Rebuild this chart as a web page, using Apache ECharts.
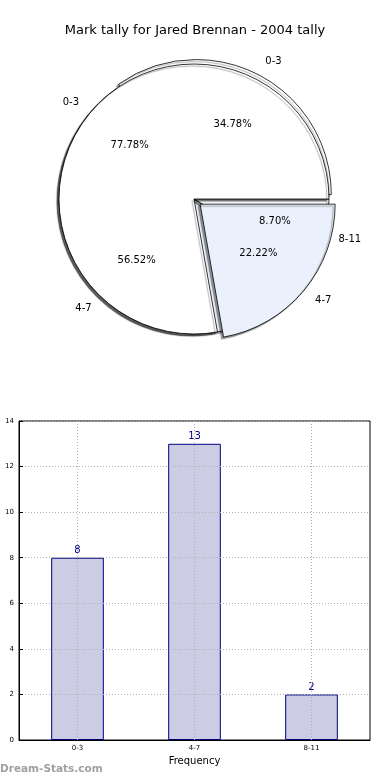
<!DOCTYPE html>
<html>
<head>
<meta charset="utf-8">
<script src="https://cdn.jsdelivr.net/npm/echarts@6/dist/echarts.min.js"></script>
<style>
html,body{margin:0;padding:0;background:#fff;}
#chart{width:390px;height:780px;}
</style>
</head>
<body>
<div id="chart"></div>
<script>
var titleText = 'Mark tally for Jared Brennan - 2004 tally';
var pieTopNames = ['0-3', '4-7'];
var pieTopValues = [7, 2];
var pieBottomNames = ['0-3', '4-7', '8-11'];
var pieBottomValues = [8, 13, 2];
var barCategories = ['0-3', '4-7', '8-11'];
var barValues = [8, 13, 2];
var yTicks = [0, 2, 4, 6, 8, 10, 12, 14];

var FONT = 'DejaVu Sans';
var WHITE = '#ffffff';
var LIGHT = '#EAF0FC';
var R = 135;
var CENTER = [194, 199];

function pieData(names, values, colors, selectedIdx) {
  return names.map(function (n, i) {
    return { name: n, value: values[i], selected: i === selectedIdx, itemStyle: { color: colors[i] } };
  });
}

function pieSeries(names, values, colors, selectedIdx, offset, z) {
  return {
    type: 'pie',
    center: CENTER,
    radius: [0, R],
    startAngle: 0,
    clockwise: false,
    selectedMode: 'multiple',
    selectedOffset: offset,
    avoidLabelOverlap: false,
    silent: true,
    z: z,
    animation: false,
    itemStyle: {
      borderColor: '#000',
      borderWidth: 0.8,
      shadowBlur: 1,
      shadowColor: 'rgba(0,0,0,0.4)',
      shadowOffsetX: -2,
      shadowOffsetY: 2
    },
    label: {
      show: true,
      position: 'outside',
      formatter: '{b}',
      color: '#000',
      fontFamily: FONT,
      fontSize: 10,
      distanceToLabelLine: 0
    },
    labelLine: { show: false, length: 15, length2: 0 },
    emphasis: { disabled: true },
    data: pieData(names, values, colors, selectedIdx)
  };
}

function pctSeries(names, values, z) {
  return {
    type: 'pie',
    center: CENTER,
    radius: [0, R * 1.2],
    startAngle: 0,
    clockwise: false,
    silent: true,
    z: z,
    animation: false,
    avoidLabelOverlap: false,
    itemStyle: { color: 'rgba(0,0,0,0)', borderWidth: 0 },
    label: {
      show: true,
      position: 'inside',
      formatter: function (p) { return p.percent.toFixed(2) + '%'; },
      color: '#000',
      fontFamily: FONT,
      fontSize: 10
    },
    labelLine: { show: false },
    emphasis: { disabled: true },
    data: names.map(function (n, i) { return { name: n, value: values[i] }; })
  };
}

var chart = echarts.init(document.getElementById('chart'), null, { renderer: 'canvas' });

var option = {
  backgroundColor: '#fff',
  animation: false,
  title: {
    text: titleText,
    left: 'center',
    top: 19,
    textStyle: { fontFamily: FONT, fontSize: 13, fontWeight: 'normal', color: '#000' }
  },
  graphic: [{
    type: 'text',
    left: 0,
    top: 764,
    style: { text: 'Dream-Stats.com', fontFamily: FONT, fontSize: 10.5, fontWeight: 'bold', fill: '#a0a0a0' }
  }],
  grid: {
    left: 19, right: 20, top: 421, bottom: 40,
    outerBoundsMode: 'none',
    containLabel: false,
    show: true, borderColor: '#000', borderWidth: 1, backgroundColor: 'transparent'
  },
  xAxis: {
    type: 'category',
    data: barCategories,
    z: 10,
    name: 'Frequency',
    nameLocation: 'middle',
    nameGap: 16,
    nameTextStyle: { fontFamily: FONT, fontSize: 10, color: '#000' },
    axisLine: { lineStyle: { color: '#000' } },
    axisTick: { show: false },
    axisLabel: { fontFamily: FONT, fontSize: 7, color: '#000', margin: 5 },
    splitLine: { show: false }
  },
  yAxis: {
    type: 'value',
    min: 0, max: 14, interval: 2,
    z: 10,
    name: 'Sum of Marks',
    nameLocation: 'middle',
    nameGap: 20,
    nameRotate: 90,
    nameTextStyle: { fontFamily: FONT, fontSize: 9, color: '#000' },
    axisLine: { show: true, lineStyle: { color: '#000' } },
    axisTick: { show: true, inside: true, length: 4, lineStyle: { color: '#000' } },
    axisLabel: { fontFamily: FONT, fontSize: 7, color: '#000', margin: 5 },
    splitLine: { show: true, lineStyle: { color: '#b0b0b0', type: [1, 2], width: 1 } }
  },
  series: [
    pieSeries(pieBottomNames, pieBottomValues, [WHITE, LIGHT, WHITE], 0, 5, 2),
    pieSeries(pieTopNames, pieTopValues, [WHITE, LIGHT], 1, 8, 3),
    pctSeries(pieBottomNames, pieBottomValues, 4),
    pctSeries(pieTopNames, pieTopValues, 4),
    {
      type: 'bar',
      data: barValues,
      barWidth: '45%',
      silent: true,
      itemStyle: { color: '#CCCCE5', borderColor: '#000080', borderWidth: 1 },
      label: { show: true, position: 'top', distance: 2, color: '#000080', fontFamily: FONT, fontSize: 10 },
      markLine: {
        silent: true,
        symbol: 'none',
        label: { show: false },
        lineStyle: { color: '#b0b0b0', type: [1, 2], width: 1 },
        data: barCategories.map(function (c) { return { xAxis: c }; })
      }
    }
  ]
};
chart.setOption(option);
</script>
</body>
</html>
